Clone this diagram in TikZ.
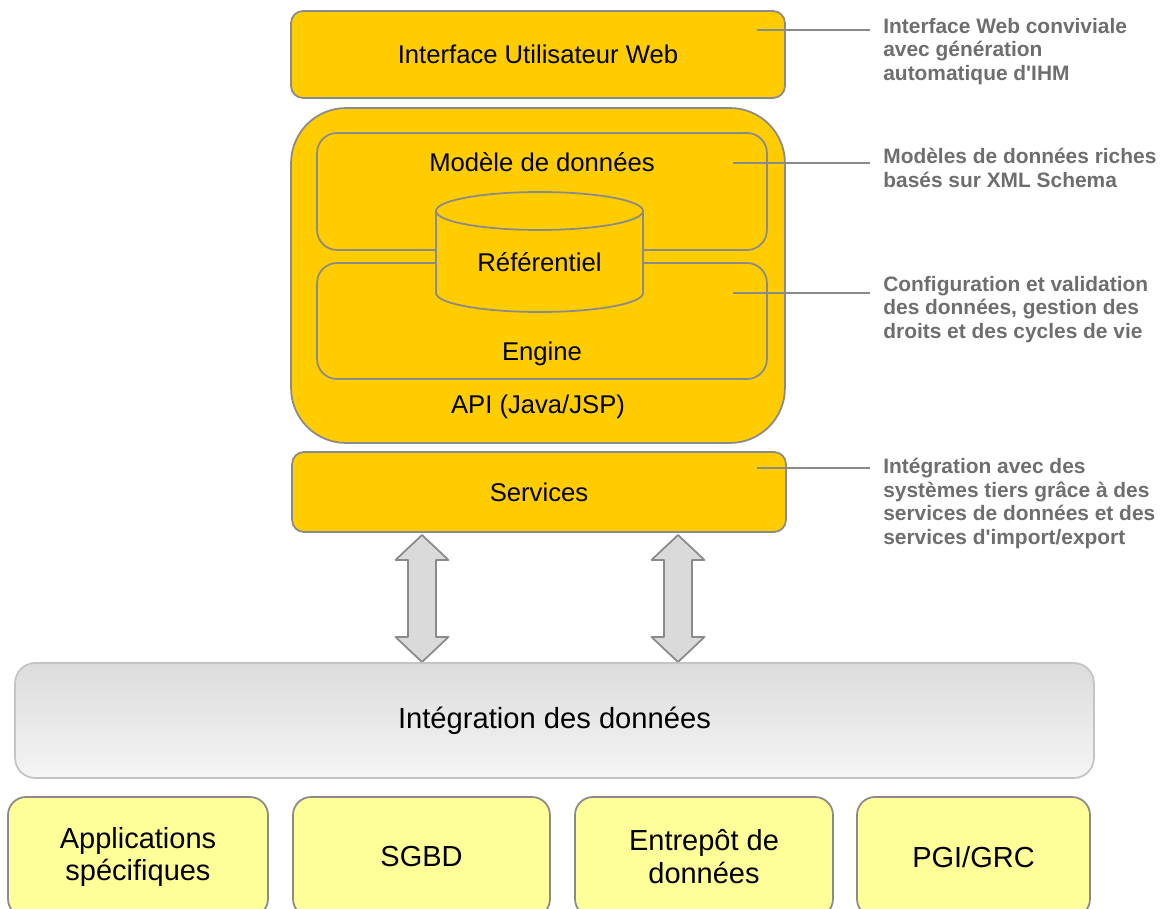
\documentclass[tikz,border=0pt]{standalone}
\usepackage{fontspec}
\setmainfont{Liberation Sans}
\usetikzlibrary{positioning}
\definecolor{jaune}{HTML}{FFCC00}
\definecolor{jaunepale}{HTML}{FFFF99}
\definecolor{bord}{HTML}{8A8A8A}
\definecolor{bordclair}{HTML}{C4C4C4}
\definecolor{gristexte}{HTML}{6E6E6E}
\definecolor{grisfleche}{HTML}{DADADA}
\definecolor{grishaut}{HTML}{DCDCDC}
\definecolor{grisbas}{HTML}{F5F5F5}
\tikzset{
  couche/.style={draw=bord, fill=jaune, line width=1pt, rounded corners=0.24cm, minimum width=9.88cm},
  sousbloc/.style={draw=bord, line width=1pt, rounded corners=0.4cm, minimum width=9cm},
  source/.style={draw=bord, fill=jaunepale, line width=1pt, rounded corners=0.36cm, minimum height=2.4cm, align=center, font=\fontsize{16.5}{18.7}\selectfont},
  note/.style={anchor=north west, align=left, inner xsep=0.26cm, inner ysep=0pt, text=gristexte, font=\bfseries\fontsize{11.9}{13.6}\selectfont},
  trait/.style={draw=bord, line width=1pt},
  fleche/.style={draw=bord, fill=grisfleche, line width=1pt},
}
\begin{document}
\begin{tikzpicture}[x=0.02cm, y=-0.02cm, font=\fontsize{14.6}{17}\selectfont, line join=round]
	\useasboundingbox (0,0) rectangle (1171,909);
	% couches
	\node[couche, minimum height=1.74cm] (ihm) at (538,54.5) {Interface Utilisateur Web};
	\node[couche, rounded corners=1.1cm, minimum height=6.7cm] (api) at (538,275.5) {};
	\node (apitxt) at (538,407) {API (Java/JSP)};
	\node[sousbloc, minimum height=2.34cm] (modele) at (542,191.5) {};
	\node[sousbloc, minimum height=2.32cm] (engine) at (542,321) {};
	\node (modtxt) at (542,162) {Modèle de données};
	\node (engtxt) at (542,354) {Engine};
	% referentiel
	\filldraw[trait, fill=jaune] (436,211) -- (436,293) arc[start angle=180, end angle=0, x radius=103.5, y radius=19] -- (643,211);
	\filldraw[trait, fill=jaune] (539.5,211) ellipse[x radius=103.5, y radius=19];
	\node (ref) at (539.5,262) {Référentiel};
	\node[couche, minimum height=1.6cm] (svc) at (539,492) {Services};
	% echanges
	\foreach \x in {422,678}
		\filldraw[fleche] (\x,535)--(\x+26.5,560)--(\x+14,560)--(\x+14,637)--(\x+26.5,637)--(\x,662)--(\x-26.5,637)--(\x-14,637)--(\x-14,560)--(\x-26.5,560)--cycle;
	\node[draw=bordclair, line width=1pt, top color=grishaut, bottom color=grisbas, rounded corners=0.4cm, minimum width=21.58cm, minimum height=2.3cm, font=\fontsize{16.6}{19}\selectfont] (integ) at (554.5,720.5) {Intégration des données};
	% sources
	\node[source, minimum width=5.2cm] (app) at (138,857) {Applications\\spécifiques};
	\node[source, minimum width=5.14cm] (sgbd) at (421.5,857) {SGBD};
	\node[source, minimum width=5.16cm] (entrepot) at (704,857) {Entrepôt de\\données};
	\node[source, minimum width=4.66cm] (pgi) at (973.5,857) {PGI/GRC};
	% notes
	\node[note] (n1) at (870,17.5) {Interface Web conviviale\\avec génération\\automatique d\textquotesingle IHM};
	\node[note] (n2) at (870,147.5) {Modèles de données riches\\basés sur XML Schema};
	\node[note] (n3) at (870,275.5) {Configuration et validation\\des données, gestion des\\droits et des cycles de vie};
	\node[note] (n4) at (870,457.5) {Intégration avec des\\systèmes tiers grâce à des\\services de données et des\\services d\textquotesingle import/export};
	\coordinate (c1) at (757,30);
	\coordinate (c2) at (733,163);
	\coordinate (c3) at (733,293);
	\coordinate (c4) at (757,468);
	\foreach \i in {1,...,4}\draw[trait] (c\i) -- (c\i -| n\i.west);
\end{tikzpicture}
\end{document}
